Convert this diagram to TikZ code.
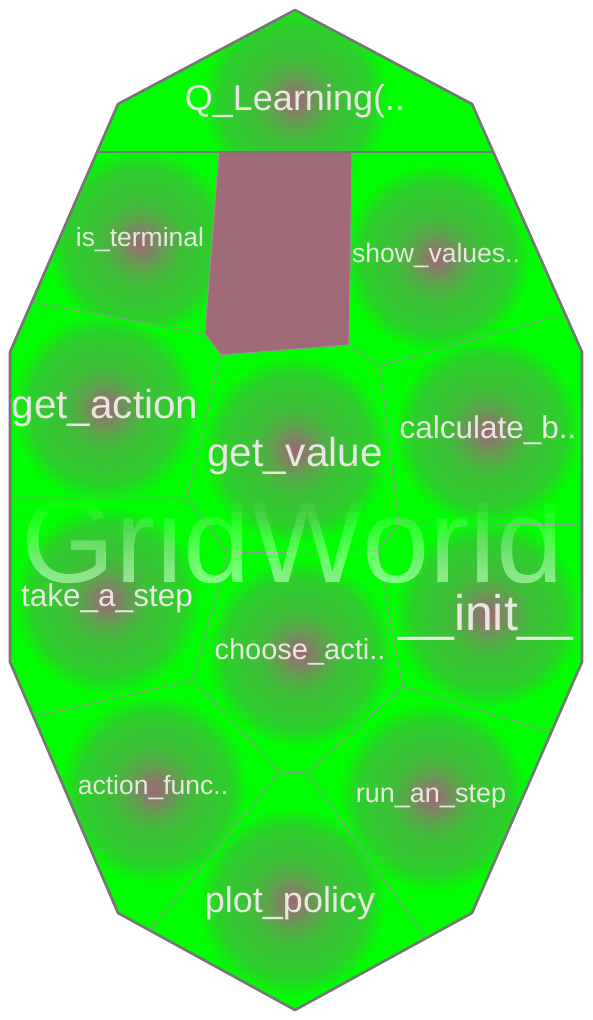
\documentclass[tikz,border=0pt]{standalone}
\usepackage{fontspec}
\setmainfont{Liberation Sans}
\usepackage{tikz}

\definecolor{cellgreen}{RGB}{0,255,0}
\definecolor{glowc}{RGB}{158,104,118}
\definecolor{plate}{RGB}{52,200,50}
\definecolor{mauvecell}{RGB}{160,106,120}
\definecolor{labelc}{RGB}{232,232,224}
\definecolor{edgegray}{RGB}{118,118,118}
\definecolor{seamgray}{RGB}{150,150,150}
\definecolor{ghostgreen}{RGB}{175,255,175}

% the path box is stretched onto -25bp..25bp
\pgfdeclareradialshading{glow}{\pgfpoint{0bp}{0bp}}{color(0bp)=(glowc); color(3bp)=(glowc!74!plate); color(6.5bp)=(glowc!40!plate); color(11bp)=(glowc!10!plate); color(16bp)=(plate); color(20bp)=(plate!85!cellgreen); color(25bp)=(cellgreen); color(50bp)=(cellgreen)}

% one cell of the map: outline, glow centre
\newcommand{\glowcell}[2]{%
  \begin{scope}
    \clip #1 -- cycle;
    \fill[cellgreen] #1 -- cycle;
    \shade[shading=glow] #2 circle (95);
  \end{scope}
  \draw[seam] #1 -- cycle;}

\begin{document}
\begin{tikzpicture}[x=1pt,y=-1pt,
    seam/.style={seamgray, line width=0.8pt, line join=round},
    rim/.style={edgegray, line width=2.6pt, line join=round},
    lbl/.style={text=labelc, inner sep=0pt},
    ghost/.style={text=ghostgreen, inner sep=0pt, font=\fontsize{121}{121}\selectfont}]
  \useasboundingbox (0,0) rectangle (592,1020);

  % cells
  \glowcell{(295,10) -- (472,104) -- (493,152) -- (97,152) -- (118,104)}{(295,100)}
  \glowcell{(97,152) -- (219,152) -- (205,334) -- (32,302)}{(141,243)}
  \fill[mauvecell] (219,152) -- (352,152) -- (349,345) -- (221,355) -- (205,334) -- cycle;
  \draw[seam] (219,152) -- (352,152) -- (349,345) -- (221,355) -- (205,334) -- cycle;
  \glowcell{(352,152) -- (493,152) -- (565,314) -- (380,366) -- (349,345)}{(437,258)}
  \glowcell{(32,302) -- (205,334) -- (221,355) -- (187,498) -- (10,498) -- (10,352)}{(105,408)}
  \glowcell{(221,355) -- (349,345) -- (380,366) -- (399,523) -- (378,551) -- (228,553) -- (187,498)}{(295,450)}
  \glowcell{(380,366) -- (565,314) -- (582,352) -- (582,525) -- (399,523)}{(488,432)}
  \glowcell{(10,498) -- (187,498) -- (228,553) -- (193,680) -- (34,717) -- (10,662)}{(107,600)}
  \glowcell{(228,553) -- (378,551) -- (403,687) -- (307,773) -- (280,772) -- (193,680)}{(300,653)}
  \glowcell{(378,551) -- (399,523) -- (582,525) -- (582,662) -- (551,732) -- (403,687)}{(488,614)}
  \glowcell{(34,717) -- (193,680) -- (280,772) -- (150,930) -- (118,913)}{(154,789)}
  \glowcell{(307,773) -- (403,687) -- (551,732) -- (472,913) -- (426,938)}{(433,797)}
  \glowcell{(280,772) -- (307,773) -- (426,938) -- (295,1010) -- (150,930)}{(292,902)}

  % faded class name: thin layers, packed closer towards the base line
  \foreach \i in {1,...,16}{
    \pgfmathsetmacro{\laytop}{495+87*((\i-0.5)/16)^0.667}
    \begin{scope}
      \clip (0,\laytop) rectangle (592,620);
      \node[ghost, anchor=base, opacity=0.083] (gridworld\i) at (293,582) {GridWorld};
    \end{scope}
  }

  % method names
  \node[lbl, font=\fontsize{36}{36}\selectfont] (qlearn) at (295,101) {Q\_Learning(..};
  \node[lbl, font=\fontsize{26.5}{26.5}\selectfont] (isterm) at (140,240) {is\_terminal};
  \node[lbl, font=\fontsize{26.5}{26.5}\selectfont] (showval) at (436,256) {show\_values..};
  \node[lbl, font=\fontsize{40.5}{40.5}\selectfont] (getact) at (105,408) {get\_action};
  \node[lbl, font=\fontsize{40.5}{40.5}\selectfont] (getval) at (295,456) {get\_value};
  \node[lbl, font=\fontsize{31.5}{31.5}\selectfont] (calcb) at (488,430) {calculate\_b..};
  \node[lbl, font=\fontsize{31.5}{31.5}\selectfont] (takestep) at (107,598) {take\_a\_step};
  \node[lbl, font=\fontsize{29}{29}\selectfont] (chooseact) at (300,652) {choose\_acti..};
  \node[lbl, font=\fontsize{50}{50}\selectfont] (initfn) at (486,617) {\_\_init\_\_};
  \node[lbl, font=\fontsize{26.5}{26.5}\selectfont] (actfunc) at (153,788) {action\_func..};
  \node[lbl, font=\fontsize{27}{27}\selectfont] (runstep) at (431,797) {run\_an\_step};
  \node[lbl, font=\fontsize{36}{36}\selectfont] (plotpol) at (290,903) {plot\_policy};

  % outer rim and the split under the constructor
  \draw[rim] (295,10) -- (472,104) -- (582,352) -- (582,662) -- (472,913) -- (295,1010)
    -- (118,913) -- (10,662) -- (10,352) -- (118,104) -- cycle;
  \draw[rim] (97,152) -- (493,152);
\end{tikzpicture}
\end{document}
